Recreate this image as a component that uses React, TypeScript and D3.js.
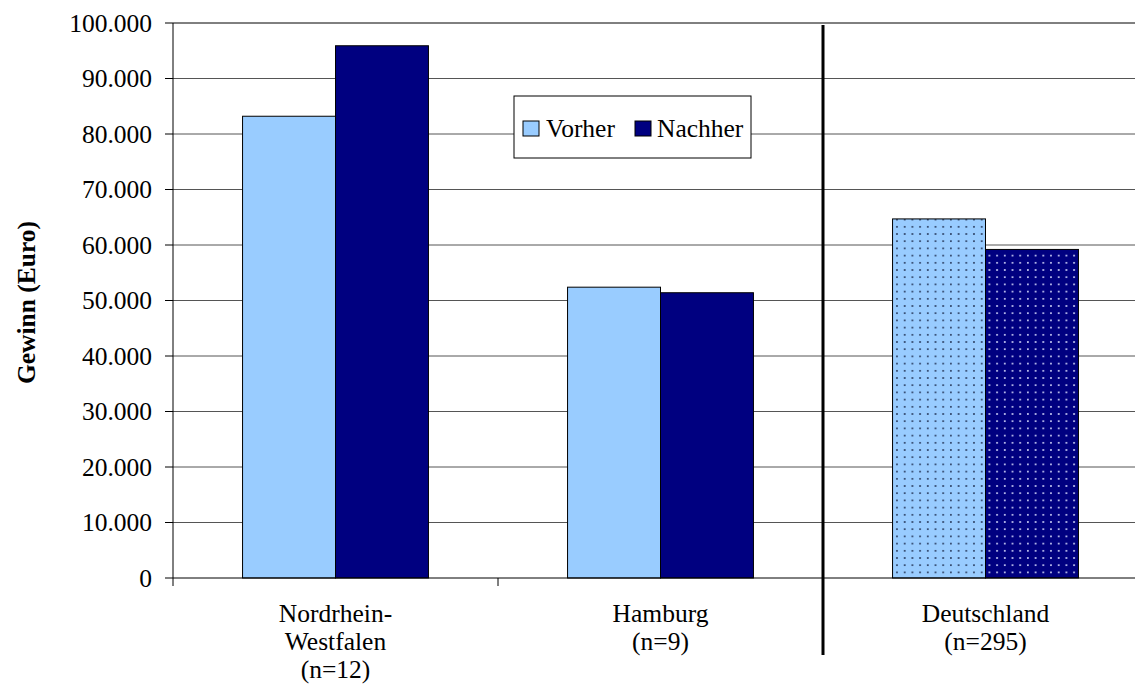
import React from "react";
import * as d3 from "d3";

const categories = ["Nordrhein-Westfalen", "Hamburg", "Deutschland"];
const categoryLabels = [["Nordrhein-", "Westfalen", "(n=12)"], ["Hamburg", "(n=9)"], ["Deutschland", "(n=295)"]];
const seriesNames = ["Vorher", "Nachher"];
const vorher = [83200, 52400, 64700];
const nachher = [95900, 51400, 59200];
const yTicks = [0, 10000, 20000, 30000, 40000, 50000, 60000, 70000, 80000, 90000, 100000];

const W = 1135, H = 688;
const left = 173, top = 23, bottom = 578, plotRight = 1148;
const LIGHT = "#99CCFF", DARK = "#000080";
const ts: React.CSSProperties = { fontFamily: "Liberation Serif", fontSize: "25.5px" };

export default function App() {
  const x = d3.scaleBand<string>().domain(categories).range([left, plotRight]);
  const inner = d3.scaleBand<string>().domain(seriesNames).range([0, x.bandwidth() * 0.572]);
  const pad = (x.bandwidth() - x.bandwidth() * 0.572) / 2;
  const y = d3.scaleLinear().domain([0, 100000]).range([bottom, top]);
  const fmt = (v: number) => d3.format(",")(v).replace(/,/g, ".");
  const values = [vorher, nachher];
  const colors = [LIGHT, DARK];
  const sepX = x(categories[2])!;

  return (
    <svg width={W} height={H} style={{ position: "absolute", left: 0, top: 0 }}>
      <defs>
        <pattern id="dotLight" width="7.7" height="7.2" patternUnits="userSpaceOnUse">
          <rect width="7.7" height="7.2" fill={LIGHT} />
          <circle cx="3.8" cy="3.6" r="1" fill="#223355" />
        </pattern>
        <pattern id="dotDark" width="7.7" height="7.2" patternUnits="userSpaceOnUse">
          <rect width="7.7" height="7.2" fill={DARK} />
          <circle cx="3.8" cy="3.6" r="1" fill="#dde0ff" />
        </pattern>
      </defs>
      <rect width={W} height={H} fill="white" />
      {yTicks.map((t) => (
        <g key={t}>
          {t > 0 && (
            <line x1={left} x2={plotRight} y1={y(t)} y2={y(t)} stroke={t === 100000 ? "#000" : "#555"} strokeWidth={1} />
          )}
          <line x1={left - 8} x2={left} y1={y(t)} y2={y(t)} stroke="#000" />
          <text x={152} y={y(t)} dy="0.35em" textAnchor="end" style={ts}>{fmt(t)}</text>
        </g>
      ))}
      {categories.map((c, ci) =>
        seriesNames.map((s, si) => {
          const bx = x(c)! + pad + inner(s)!;
          const fill = ci === 2 ? (si === 0 ? "url(#dotLight)" : "url(#dotDark)") : colors[si];
          return (
            <rect key={c + s} x={bx} y={y(values[si][ci])} width={inner.bandwidth()} height={bottom - y(values[si][ci])}
              fill={fill} stroke="#000" strokeWidth={1} />
          );
        })
      )}
      <line x1={left} x2={left} y1={top} y2={bottom} stroke="#000" />
      <line x1={left} x2={plotRight} y1={bottom} y2={bottom} stroke="#000" />
      {categories.map((c) => (
        <line key={c} x1={x(c)!} x2={x(c)!} y1={bottom} y2={bottom + 8} stroke="#000" />
      ))}
      <line x1={sepX} x2={sepX} y1={top + 2} y2={655} stroke="#000" strokeWidth={3} />
      {categories.map((c, i) => (
        <text key={c} x={x(c)! + x.bandwidth() / 2} textAnchor="middle" style={ts}>
          {categoryLabels[i].map((l, li) => (
            <tspan key={li} x={x(c)! + x.bandwidth() / 2} y={622 + li * 28}>{l}</tspan>
          ))}
        </text>
      ))}
      <text transform={`translate(35,${(top + bottom) / 2 + 2}) rotate(-90)`} textAnchor="middle" style={{ ...ts, fontWeight: "bold" }}>Gewinn (Euro)</text>
      <g>
        <rect x={514} y={96} width={237} height={62} fill="white" stroke="#000" />
        <rect x={523} y={121} width={16} height={15} fill={LIGHT} stroke="#000" />
        <text x={546} y={137} style={ts}>{seriesNames[0]}</text>
        <rect x={635} y={121} width={16} height={15} fill={DARK} stroke="#000" />
        <text x={657} y={137} style={ts}>{seriesNames[1]}</text>
      </g>
    </svg>
  );
}
